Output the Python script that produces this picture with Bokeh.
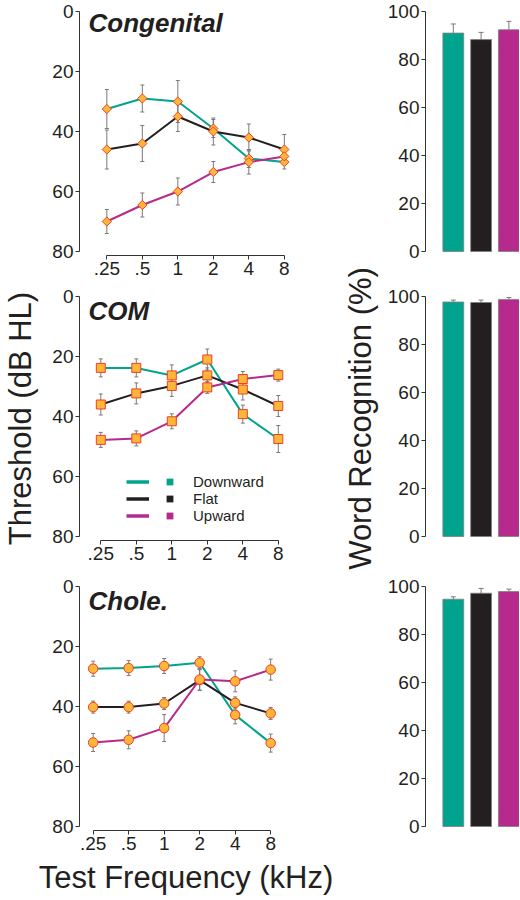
import numpy as np
from bokeh.plotting import figure
from bokeh.layouts import row, column
from bokeh.models import (Range1d, ColumnDataSource, Whisker, TeeHead, Label,
                          Legend, LegendItem, FixedTicker)
from bokeh.embed import file_html
from bokeh.resources import INLINE

# ---------------- data ----------------
freq_labels = [".25", ".5", "1", "2", "4", "8"]
series_names = ["Downward", "Flat", "Upward"]
panel_titles = ["Congenital", "COM", "Chole."]

cong_down = [32.5, 29.0, 30.0, 39.0, 49.0, 50.2]
cong_down_err = [6.5, 4.5, 7.0, 3.0, 3.0, 2.3]
cong_flat = [46.0, 44.0, 35.0, 40.0, 42.0, 46.0]
cong_flat_err = [6.5, 6.0, 5.0, 4.5, 4.5, 5.0]
cong_up = [70.0, 64.5, 60.0, 53.5, 50.2, 48.3]
cong_up_err = [4.0, 4.0, 4.5, 3.5, 4.0, 2.0]

com_down = [23.8, 23.8, 26.3, 21.0, 39.2, 47.5]
com_down_err = [3.0, 3.0, 3.5, 3.5, 3.0, 4.5]
com_flat = [36.0, 32.3, 29.8, 26.3, 31.0, 36.5]
com_flat_err = [3.5, 3.5, 3.5, 2.5, 3.5, 3.5]
com_up = [47.8, 47.3, 41.6, 30.3, 27.5, 26.2]
com_up_err = [2.5, 2.5, 2.5, 2.0, 2.5, 2.0]

chole_down = [27.4, 27.2, 26.5, 25.4, 42.8, 52.2]
chole_down_err = [2.5, 2.5, 2.5, 2.0, 3.0, 3.0]
chole_flat = [40.2, 40.2, 39.0, 31.2, 38.8, 42.3]
chole_flat_err = [2.0, 2.0, 2.0, 3.5, 2.0, 2.0]
chole_up = [52.0, 51.1, 47.2, 31.0, 31.6, 27.7]
chole_up_err = [3.0, 3.0, 4.5, 3.5, 3.5, 3.5]

wr_cong = [91.0, 88.3, 92.4]
wr_cong_err = [3.8, 3.0, 3.5]
wr_com = [97.7, 97.5, 98.8]
wr_com_err = [0.8, 1.0, 0.8]
wr_chole = [94.7, 97.2, 97.9]
wr_chole_err = [1.0, 2.0, 1.0]

db_ticks = [0, 20, 40, 60, 80]
pct_ticks = [0, 20, 40, 60, 80, 100]

# ---------------- style / layout ----------------
FONT = "Liberation Sans"
TEAL = "#00A48E"
BLACK = "#231F20"
MAGENTA = "#B6298D"
COLORS = [TEAL, BLACK, MAGENTA]
MFILL = "#FDB53A"
MLINE = "#EE4023"
ERR = "#7A7A7A"

FRAME_H = 244          # 0..81.33 dB at 3 px/dB
W_L, W_R = 338, 181
L_BORDER = 74          # frame left at page x 74
R_BORDER = 87          # bar frame left at page x 425
H_LEFT = [287, 290, 322]
TOP_LEFT = [11, 9, 9]
H_RIGHT = [262, 315, 322]
TOP_RIGHT = [11, 34, 9]
TITLE_DROP = [26.5, 29.5, 29.5]


def style_axis(ax):
    ax.axis_line_color = "#333333"
    ax.axis_line_width = 1
    ax.major_tick_line_color = "#333333"
    ax.major_tick_out = 4
    ax.major_tick_in = 0
    ax.minor_tick_line_color = None
    ax.major_label_text_font = FONT
    ax.major_label_text_font_size = "19px"
    ax.major_label_text_color = BLACK
    ax.major_label_standoff = 2
    ax.axis_label_text_font = FONT
    ax.axis_label_text_font_size = "31px"
    ax.axis_label_text_font_style = "normal"
    ax.axis_label_text_color = BLACK


def whisker(src, size):
    return Whisker(source=src, base="x", upper="upper", lower="lower",
                   line_color=ERR, line_width=1, level="underlay",
                   upper_head=TeeHead(size=size, line_color=ERR, line_width=1),
                   lower_head=TeeHead(size=size, line_color=ERR, line_width=1))


def line_panel(title, data, errs, marker, msize, mangle, x_start, height, top, drop):
    p = figure(width=W_L, height=height, output_backend="svg", toolbar_location=None,
               x_range=Range1d(x_start, x_start + 6.0), y_range=Range1d(81.33, 0),
               min_border_left=L_BORDER, min_border_right=W_L - L_BORDER - 218,
               min_border_top=top, min_border_bottom=height - top - FRAME_H,
               outline_line_color=None)
    p.grid.visible = False
    p.xaxis.ticker = FixedTicker(ticks=list(range(len(freq_labels))))
    p.xaxis.major_label_overrides = {i: lab for i, lab in enumerate(freq_labels)}
    p.xaxis.bounds = (0, len(freq_labels) - 1)
    p.yaxis.ticker = FixedTicker(ticks=db_ticks)
    p.yaxis.bounds = (0, 80)
    style_axis(p.xaxis[0])
    style_axis(p.yaxis[0])
    xs = list(range(len(freq_labels)))
    srcs = []
    for vals, err, col in zip(data, errs, COLORS):
        v = np.array(vals)
        e = np.array(err)
        src = ColumnDataSource(dict(x=xs, y=vals, upper=v + e, lower=v - e))
        srcs.append(src)
        p.add_layout(whisker(src, 4))
        p.line("x", "y", source=src, line_color=col, line_width=2)
    for src in srcs:
        p.scatter("x", "y", source=src, marker=marker, size=msize, angle=mangle,
                  fill_color=MFILL, line_color=MLINE, line_width=1)
    p.add_layout(Label(x=9, y=FRAME_H - drop, x_units="screen", y_units="screen",
                       text=title, text_font=FONT, text_font_size="26px",
                       text_font_style="bold italic", text_color=BLACK))
    return p


def bar_panel(vals, errs, height, top):
    p = figure(width=W_R, height=height, output_backend="svg", toolbar_location=None,
               x_range=Range1d(0, 94 / 27.8), y_range=Range1d(-4 * 100 / 240, 100),
               min_border_left=R_BORDER, min_border_right=0,
               min_border_top=top, min_border_bottom=height - top - FRAME_H,
               x_axis_location=None, outline_line_color=None)
    p.grid.visible = False
    p.yaxis.ticker = FixedTicker(ticks=pct_ticks)
    p.yaxis.bounds = (0, 100)
    style_axis(p.yaxis[0])
    v = np.array(vals)
    e = np.array(errs)
    src = ColumnDataSource(dict(x=[1, 2, 3], top=vals, color=COLORS,
                                upper=v + e, lower=v - e))
    p.add_layout(whisker(src, 5))
    p.vbar(x="x", top="top", bottom=0, width=0.75, source=src,
           fill_color="color", line_color="#7f7f7f", line_width=0.8)
    return p


p1 = line_panel(panel_titles[0], [cong_down, cong_flat, cong_up],
                [cong_down_err, cong_flat_err, cong_up_err],
                "square", 6.5, np.pi / 4, -0.77, H_LEFT[0], TOP_LEFT[0], TITLE_DROP[0])
p2 = line_panel(panel_titles[1], [com_down, com_flat, com_up],
                [com_down_err, com_flat_err, com_up_err],
                "square", 9, 0, -0.6, H_LEFT[1], TOP_LEFT[1], TITLE_DROP[1])
p3 = line_panel(panel_titles[2], [chole_down, chole_flat, chole_up],
                [chole_down_err, chole_flat_err, chole_up_err],
                "circle", 9.5, 0, -0.385, H_LEFT[2], TOP_LEFT[2], TITLE_DROP[2])

# legend in COM panel: line keys (one-point lines draw nothing in the plot),
# then colour squares (size 0 in the plot) with their labels
com_series = [com_down, com_flat, com_up]
line_keys = [p2.line(x=[0], y=[s[0]], line_color=c, line_width=3.5)
             for s, c in zip(com_series, COLORS)]
sq_keys = [p2.scatter(x=list(range(len(s))), y=s, marker="square", size=0,
                      fill_color=c, line_color=None)
           for s, c in zip(com_series, COLORS)]
legA = Legend(items=[LegendItem(label=" ", renderers=[r]) for r in line_keys],
              location=(47, 16), padding=0, spacing=0, glyph_width=23, glyph_height=17,
              label_height=17, label_width=0, label_standoff=0,
              border_line_color=None, background_fill_alpha=0,
              label_text_font_size="15px", label_text_font=FONT)
legB = Legend(items=[LegendItem(label=n, renderers=[r]) for n, r in zip(series_names, sq_keys)],
              location=(80, 16), padding=0, spacing=0, glyph_width=21, glyph_height=17,
              label_height=17, label_standoff=13,
              border_line_color=None, background_fill_alpha=0,
              label_text_font_size="15px", label_text_font=FONT, label_text_color=BLACK)
p2.add_layout(legA)
p2.add_layout(legB)

# shared axis titles
p2.yaxis.axis_label = "Threshold (dB HL)"
p2.yaxis.axis_label_standoff = 11
p3.xaxis.axis_label = "Test Frequency (kHz)"
p3.xaxis.axis_label_standoff = 7

b1 = bar_panel(wr_cong, wr_cong_err, H_RIGHT[0], TOP_RIGHT[0])
b2 = bar_panel(wr_com, wr_com_err, H_RIGHT[1], TOP_RIGHT[1])
b3 = bar_panel(wr_chole, wr_chole_err, H_RIGHT[2], TOP_RIGHT[2])
b2.yaxis.axis_label = "Word Recognition (%)"
b2.yaxis.axis_label_standoff = 7

layout = row(column(p1, p2, p3), column(b1, b2, b3))
open("out.html", "w").write(file_html(layout, INLINE))
